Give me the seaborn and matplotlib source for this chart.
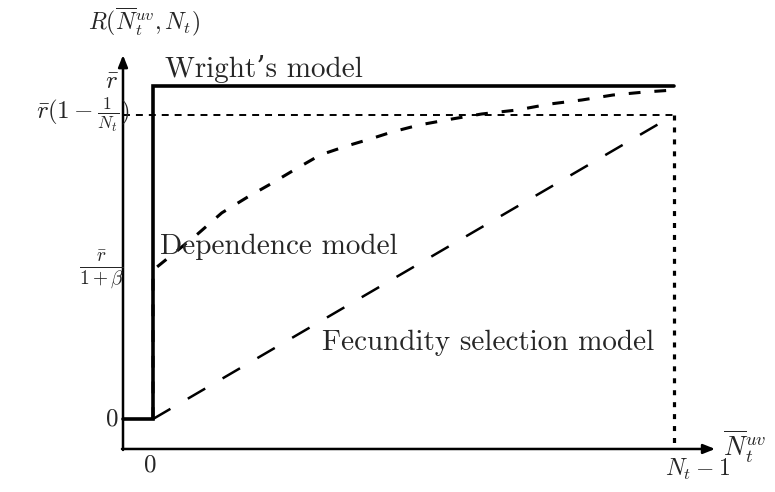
import numpy as np
import pandas as pd
import matplotlib
matplotlib.use("Agg")
import matplotlib.pyplot as plt
import seaborn as sns

# ---- data (x in units of N_t - 1, y in units of r-bar) ----
wright_x = [-0.0576, 0.0, 0.0, 1.0]
wright_y = [0.0, 0.0, 1.0, 1.0]

fecundity_x = [0.0, 1.0]
fecundity_y = [0.0, 0.913]

dependence_x = [0.0, 0.0, 0.046, 0.086, 0.132, 0.182, 0.226, 0.271, 0.321, 0.372,
                0.417, 0.459, 0.511, 0.574, 0.631, 0.699, 0.762, 0.823, 0.883,
                0.944, 1.0]
dependence_y = [0.0, 0.447, 0.505, 0.556, 0.619, 0.667, 0.706, 0.748, 0.793, 0.820,
                0.841, 0.862, 0.883, 0.901, 0.916, 0.928, 0.946, 0.958, 0.973,
                0.982, 0.988]

level_low = 0.447     # r/(1+beta)
level_high = 0.913    # r(1 - 1/N_t)
axis_x0, axis_y0 = -0.0576, -0.09
axis_x1, axis_y1 = 1.079, 1.093

sns.set_theme(style="white")
plt.rcParams["mathtext.fontset"] = "cm"
plt.rcParams["lines.scale_dashes"] = False
plt.rcParams["font.family"] = ["cmr10", "DejaVu Serif"]

fig = plt.figure(figsize=(7.75, 4.92), dpi=100)
ax = fig.add_axes([0, 0, 1, 1])
ax.set_xlim(-0.2937, 1.1939)
ax.set_ylim(-0.2192, 1.2583)
ax.axis("off")

wright = pd.DataFrame({"x": wright_x, "y": wright_y})
fec = pd.DataFrame({"x": fecundity_x, "y": fecundity_y})
dep = pd.DataFrame({"x": dependence_x, "y": dependence_y})

sns.lineplot(data=wright, x="x", y="y", ax=ax, sort=False, estimator=None,
             color="black", lw=2.6, solid_joinstyle="miter")
sns.lineplot(data=fec, x="x", y="y", ax=ax, sort=False, estimator=None,
             color="black", lw=1.8, linestyle=(0, (14.5, 14.5)))
sns.lineplot(data=dep, x="x", y="y", ax=ax, sort=False, estimator=None,
             color="black", lw=2.2, linestyle=(0, (8.5, 10)))

# guide lines
ax.plot([axis_x0, 1.0], [level_high, level_high], color="black", lw=1.4,
        linestyle=(0, (5, 4.3)))
ax.plot([1.0, 1.0], [level_high, axis_y0], color="black", lw=2.3,
        linestyle=(0, (3.6, 5)))

# axes with arrows
arrow = dict(arrowstyle="-|>,head_length=0.5,head_width=0.2", color="black",
             lw=1.8, shrinkA=0, shrinkB=0, mutation_scale=14)
ax.annotate("", xy=(axis_x1, axis_y0), xytext=(axis_x0 - 0.002, axis_y0), arrowprops=arrow)
ax.annotate("", xy=(axis_x0, axis_y1), xytext=(axis_x0, axis_y0 - 0.003), arrowprops=arrow)

fs = 17
ts = 21
ax.text(-0.125, 1.243, r"$R(\overline{N}_t^{uv}, N_t)$", fontsize=fs, va="top", ha="left")
ax.text(1.094, -0.084, r"$\overline{N}_t^{uv}$", fontsize=fs + 2, va="center", ha="left")
ax.text(0.983, -0.114, r"$N_t - 1$", fontsize=fs, va="top", ha="left")
ax.text(-0.006, -0.105, r"$0$", fontsize=fs + 1, va="top", ha="center")
ax.text(-0.079, 0.0, r"$0$", fontsize=fs + 1, va="center", ha="center")
ax.text(-0.079, 1.012, r"$\bar{r}$", fontsize=fs + 1, va="center", ha="center")
ax.text(-0.044, level_high, r"$\bar{r}(1-\frac{1}{N_t})$", fontsize=fs + 1, va="center", ha="right")
ax.text(-0.056, level_low, r"$\frac{\bar{r}}{1+\beta}$", fontsize=fs + 3, va="center", ha="right")

ax.text(0.023, 1.027, "Wright\u2019s model", fontsize=ts, va="baseline", ha="left")
ax.text(0.013, 0.495, "Dependence model", fontsize=ts, va="baseline", ha="left")
ax.text(0.324, 0.207, "Fecundity selection model", fontsize=ts, va="baseline", ha="left")

fig.savefig("out.png", dpi=100)
